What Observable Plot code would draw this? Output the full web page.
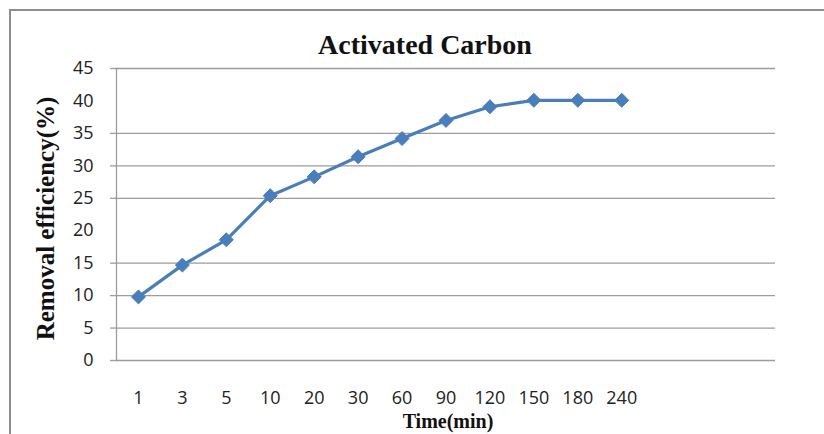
<!DOCTYPE html>
<html>
<head>
<meta charset="utf-8">
<script src="https://cdn.jsdelivr.net/npm/d3@7"></script>
<script src="https://cdn.jsdelivr.net/npm/@observablehq/plot@0.6"></script>
<style>
  html, body { margin: 0; padding: 0; background: #fff; }
  #wrap { position: relative; width: 824px; height: 434px; overflow: hidden; background: #fff; }
  #chart { position: absolute; left: 0; top: 0; }
  #border { position: absolute; left: 9px; top: 9px; width: 840px; height: 450px; border: 2px solid #8e8e8e; box-sizing: border-box; }
</style>
</head>
<body>
<div id="wrap"><div id="chart"></div><div id="border"></div></div>
<script>
// Data
const times = ["1", "3", "5", "10", "20", "30", "60", "90", "120", "150", "180", "240"];
const removal = [9.8, 14.7, 18.6, 25.4, 28.3, 31.4, 34.2, 37.0, 39.1, 40.1, 40.1, 40.1];
const emptySlots = ["", " ", "  "];           // unused category slots at the right
const yTicks = [0, 5, 10, 15, 20, 25, 30, 35, 40, 45];
const gridLines = [0, 5, 10, 15, 25, 30, 35, 45]; // gridlines visible in the scan
const title = "Activated Carbon";
const xLabel = "Time(min)";
const yLabel = "Removal efficiency(%)";

const data = times.map((t, i) => ({time: t, value: removal[i]}));
const blue = "#4a7ebb";
const grid = "#9c9c9c";

const chart = Plot.plot({
  width: 824,
  height: 434,
  marginTop: 68,
  marginBottom: 74,
  marginLeft: 116,
  marginRight: 49,
  style: {fontFamily: "'Open Sans', sans-serif", background: "transparent", overflow: "visible"},
  x: {type: "point", domain: [...times, ...emptySlots], padding: 0.5, round: false, label: null},
  y: {domain: [0, 45], label: null},
  marks: [
    Plot.ruleY(gridLines, {stroke: grid, strokeWidth: 1.3}),
    Plot.axisY(gridLines, {tickSize: 6, tickFormat: () => "", stroke: grid, strokeWidth: 1.3, label: null}),
    Plot.frame({anchor: "left", stroke: grid, strokeWidth: 1.3}),
    Plot.axisY(yTicks, {tickSize: 0, tickPadding: 23, fontSize: 18, fill: "#222", label: null}),
    Plot.axisX({tickSize: 0, tickPadding: 31, fontSize: 18, fill: "#222", label: null}),
    Plot.lineY(data, {x: "time", y: "value", stroke: blue, strokeWidth: 3.2}),
    Plot.dot(data, {x: "time", y: "value", symbol: "diamond2", r: 6.3, fill: blue, stroke: blue, strokeWidth: 1}),
    Plot.text([title], {frameAnchor: "top", lineAnchor: "bottom", dx: -21, dy: -15,
      fontFamily: "'Liberation Serif', 'Times New Roman', serif", fontWeight: "bold", fontSize: 28, fill: "#111"}),
    Plot.text([xLabel], {frameAnchor: "bottom", lineAnchor: "bottom", dx: 2, dy: 67,
      fontFamily: "'Liberation Serif', 'Times New Roman', serif", fontWeight: "bold", fontSize: 20, fill: "#111"}),
    Plot.text([yLabel], {frameAnchor: "left", textAnchor: "middle", lineAnchor: "bottom", rotate: -90, dx: -63, dy: 4,
      fontFamily: "'Liberation Serif', 'Times New Roman', serif", fontWeight: "bold", fontSize: 25, fill: "#111"})
  ]
});
document.getElementById("chart").appendChild(chart);
</script>
</body>
</html>
